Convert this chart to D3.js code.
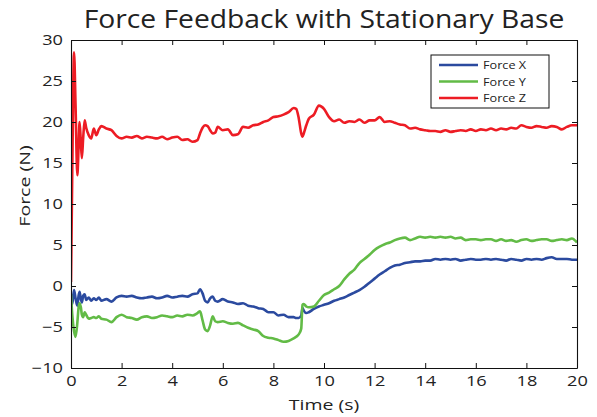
<!DOCTYPE html>
<html>
<head>
<meta charset="utf-8">
<script src="https://cdn.jsdelivr.net/npm/d3@7"></script>
<style>
  html, body { margin: 0; padding: 0; background: #fff; }
  svg text { font-family: "Open Sans", "DejaVu Sans", sans-serif; fill: #222; }
</style>
</head>
<body>
<svg id="chart" width="597" height="417"></svg>
<script>
// Time stamps (s)
const time = [
  0, 0.05, 0.12, 0.18, 0.25, 0.3, 0.34, 0.39, 0.43, 0.48, 0.54, 0.6, 0.7, 0.8, 0.9, 1.0, 1.1, 1.2,
  1.4, 1.6, 1.8, 2.0, 2.2, 2.4, 2.6, 2.8, 3.0, 3.2, 3.4, 3.6, 3.8, 4.0, 4.2, 4.4, 4.6, 4.8, 5.0,
  5.1, 5.2, 5.3, 5.4, 5.5, 5.6, 5.7, 5.8,
  6.0, 6.2, 6.4, 6.6, 6.8, 7.0, 7.2, 7.4, 7.6, 7.8, 8.0, 8.2, 8.4, 8.6, 8.8,
  8.9, 9.0, 9.1, 9.15, 9.2, 9.3, 9.4, 9.6, 9.8,
  10.0, 10.2, 10.4, 10.6, 10.8, 11.0, 11.2, 11.4, 11.6, 11.8, 12.0, 12.2, 12.4, 12.6, 12.8,
  13.0, 13.2, 13.4, 13.6, 13.8, 14.0, 14.2, 14.4, 14.6, 14.8, 15.0, 15.2, 15.4, 15.6, 15.8,
  16.0, 16.2, 16.4, 16.6, 16.8, 17.0, 17.2, 17.4, 17.6, 17.8, 18.0, 18.2, 18.4, 18.6, 18.8,
  19.0, 19.2, 19.4, 19.6, 19.8, 20.0
];

// Force X (N)
const forceX = [
  -1.0, -2.2, -0.5, -1.5, -2.4, -1.2, -0.7, -1.6, -2.0, -1.2, -1.0, -1.7, -1.4, -1.8, -1.5, -1.7, -1.4, -1.8,
  -1.6, -1.9, -1.4, -1.2, -1.3, -1.2, -1.4, -1.5, -1.4, -1.3, -1.5, -1.4, -1.2, -1.4, -1.3, -1.2, -1.3, -1.0, -0.9,
  -0.4, -0.9, -1.8, -2.0, -1.5, -1.3, -1.8, -1.9,
  -1.6, -1.9, -2.0, -2.2, -2.1, -2.4, -2.5, -2.7, -2.8, -3.2, -3.2, -3.6, -3.5, -3.8, -3.8,
  -3.9, -3.9, -3.6, -2.7, -3.0, -3.3, -3.2, -2.8, -2.5,
  -2.3, -2.1, -1.8, -1.6, -1.4, -1.1, -0.8, -0.5, -0.1, 0.4, 0.9, 1.4, 1.8, 2.2, 2.5,
  2.6, 2.8, 2.9, 3.0, 3.0, 3.1, 3.1, 3.3, 3.2, 3.3, 3.2, 3.3, 3.1, 3.2, 3.3,
  3.2, 3.2, 3.3, 3.2, 3.3, 3.2, 3.1, 3.3, 3.2, 3.1, 3.3, 3.2, 3.3, 3.2, 3.4,
  3.5, 3.3, 3.3, 3.3, 3.2, 3.2
];

// Force Y (N)
const forceY = [
  -1.0, -3.5, -5.5, -6.2, -4.5, -2.6, -2.1, -2.6, -3.5, -3.8, -3.2, -3.5, -4.0, -3.9, -3.8, -3.9, -3.7, -4.0,
  -4.1, -4.4, -3.8, -3.5, -3.8, -3.9, -4.1, -3.8, -3.7, -3.9, -3.8, -3.6, -3.7, -3.8, -3.6, -3.7, -3.5, -3.6, -3.3,
  -3.1, -4.2, -5.3, -5.5, -4.8, -3.7, -4.3, -4.4,
  -4.3, -4.5, -4.6, -4.5, -4.8, -5.1, -5.3, -5.5, -6.1, -6.3, -6.4, -6.6, -6.8, -6.7, -6.4,
  -6.2, -5.9, -5.2, -2.3, -2.2, -2.5, -2.6, -2.5, -1.8,
  -1.1, -0.8, -0.4, 0.0, 0.8, 1.5, 2.0, 2.8, 3.3, 3.8, 4.4, 4.8, 5.1, 5.3, 5.6,
  5.8, 5.9, 5.6, 5.8, 6.0, 5.9, 6.0, 5.9, 6.0, 5.9, 6.0, 5.8, 5.9, 5.6, 5.7,
  5.7, 5.6, 5.7, 5.7, 5.5, 5.7, 5.5, 5.6, 5.4, 5.6, 5.7, 5.5, 5.6, 5.7, 5.7,
  5.5, 5.6, 5.7, 5.6, 5.8, 5.3
];

// Force Z (N)
const forceZ = [
  0.5, 14.0, 28.5, 22.0, 13.5, 17.0, 20.0, 17.5, 15.6, 18.0, 20.2, 19.3, 18.4, 18.0, 19.2, 18.4, 19.1, 19.5,
  19.2, 19.0, 18.3, 18.0, 18.2, 18.1, 18.3, 18.0, 18.2, 18.1, 18.0, 18.2, 17.9, 18.1, 18.2, 17.8, 17.9, 17.6, 17.8,
  18.6, 19.3, 19.6, 19.5, 19.0, 18.6, 18.7, 19.4,
  19.0, 19.1, 18.4, 18.5, 19.4, 19.3, 19.6, 19.7, 20.0, 20.2, 20.6, 20.7, 20.9, 21.2, 21.7,
  21.6, 20.5, 18.6, 18.2, 18.6, 19.6, 20.4, 20.9, 22.0,
  21.6, 20.6, 20.1, 20.3, 19.9, 20.1, 20.0, 20.3, 19.9, 20.2, 20.2, 20.6, 20.0, 20.1, 19.9,
  19.7, 19.6, 19.2, 19.3, 19.1, 19.0, 18.9, 18.9, 18.8, 19.0, 18.8, 18.9, 19.0, 18.9, 19.1,
  18.9, 19.1, 19.0, 19.2, 19.0, 19.2, 19.1, 19.3, 19.2, 19.6, 19.4, 19.3, 19.5, 19.4, 19.3,
  19.5, 19.4, 19.1, 19.4, 19.6, 19.6
];

const seriesNames = ["Force X", "Force Y", "Force Z"];
const seriesColors = ["#2b4a9f", "#62bb46", "#ed1c24"];
const xTicks = [0, 2, 4, 6, 8, 10, 12, 14, 16, 18, 20];
const yTicks = [-10, -5, 0, 5, 10, 15, 20, 25, 30];

const svg = d3.select("#chart");
const plot = { left: 71, right: 577, top: 40, bottom: 368 };

const x = d3.scaleLinear().domain([0, 20]).range([plot.left, plot.right]);
const y = d3.scaleLinear().domain([-10, 30]).range([plot.bottom, plot.top]);

// Widen glyphs horizontally (the figure uses a broad face)
function widen(sel, factor) {
  sel.each(function () {
    const w = this.getComputedTextLength();
    d3.select(this)
      .attr("textLength", (w * factor).toFixed(1))
      .attr("lengthAdjust", "spacingAndGlyphs");
  });
}

// Title
svg.append("text")
  .attr("x", 324).attr("y", 28)
  .attr("text-anchor", "middle")
  .style("font-size", "25px")
  .text("Force Feedback with Stationary Base")
  .call(widen, 1.13);

// Series lines, clipped to the axes box
svg.append("clipPath").attr("id", "plotClip")
  .append("rect")
  .attr("x", plot.left).attr("y", plot.top)
  .attr("width", plot.right - plot.left).attr("height", plot.bottom - plot.top);

const line = d3.line()
  .x(d => x(d[0]))
  .y(d => y(d[1]))
  .curve(d3.curveMonotoneX);

const allSeries = [forceX, forceY, forceZ];
const lines = svg.append("g").attr("clip-path", "url(#plotClip)");
allSeries.forEach((vals, i) => {
  lines.append("path")
    .datum(time.map((t, j) => [t, vals[j]]))
    .attr("fill", "none")
    .attr("stroke", seriesColors[i])
    .attr("stroke-width", 2.6)
    .attr("stroke-linejoin", "round")
    .attr("d", line);
});

// Axes: inward ticks on all four sides, labels on bottom and left
const tickLen = 5;
const axisStyle = g => {
  g.attr("font-family", null).attr("font-size", null);
  g.select(".domain").attr("stroke", "#111").attr("stroke-width", 1.1);
  g.selectAll(".tick line").attr("stroke", "#111").attr("stroke-width", 1);
  g.selectAll(".tick text").style("font-size", "14px").attr("fill", "#222");
};

svg.append("g")
  .attr("transform", `translate(0,${plot.bottom})`)
  .call(d3.axisBottom(x).tickValues(xTicks).tickSizeInner(-tickLen).tickSizeOuter(0).tickPadding(8))
  .call(axisStyle)
  .call(g => g.selectAll(".tick text").call(widen, 1.3));

svg.append("g")
  .attr("transform", `translate(0,${plot.top})`)
  .call(d3.axisTop(x).tickValues(xTicks).tickSizeInner(-tickLen).tickSizeOuter(0).tickFormat(""))
  .call(axisStyle);

svg.append("g")
  .attr("transform", `translate(${plot.left},0)`)
  .call(d3.axisLeft(y).tickValues(yTicks).tickSizeInner(-tickLen).tickSizeOuter(0).tickPadding(8)
    .tickFormat(d => d < 0 ? "\u2212" + Math.abs(d) : d))
  .call(axisStyle)
  .call(g => g.selectAll(".tick text").call(widen, 1.3));

svg.append("g")
  .attr("transform", `translate(${plot.right},0)`)
  .call(d3.axisRight(y).tickValues(yTicks).tickSizeInner(-tickLen).tickSizeOuter(0).tickFormat(""))
  .call(axisStyle);

// Axis labels
svg.append("text")
  .attr("x", 324).attr("y", 410)
  .attr("text-anchor", "middle")
  .style("font-size", "15px")
  .text("Time (s)")
  .call(widen, 1.3);

svg.append("text")
  .attr("transform", "translate(30,186) rotate(-90)")
  .attr("text-anchor", "middle")
  .style("font-size", "15px")
  .text("Force (N)")
  .call(widen, 1.3);

// Legend
const legend = svg.append("g");
legend.append("rect")
  .attr("x", 431).attr("y", 55)
  .attr("width", 118).attr("height", 53)
  .attr("fill", "#fff").attr("stroke", "#111").attr("stroke-width", 1);

seriesNames.forEach((name, i) => {
  const ly = 65 + i * 16.5;
  legend.append("line")
    .attr("x1", 439).attr("x2", 478)
    .attr("y1", ly).attr("y2", ly)
    .attr("stroke", seriesColors[i]).attr("stroke-width", 2.6);
  legend.append("text")
    .attr("x", 483).attr("y", ly + 4)
    .style("font-size", "11px")
    .text(name)
    .call(widen, 1.15);
});
</script>
</body>
</html>
